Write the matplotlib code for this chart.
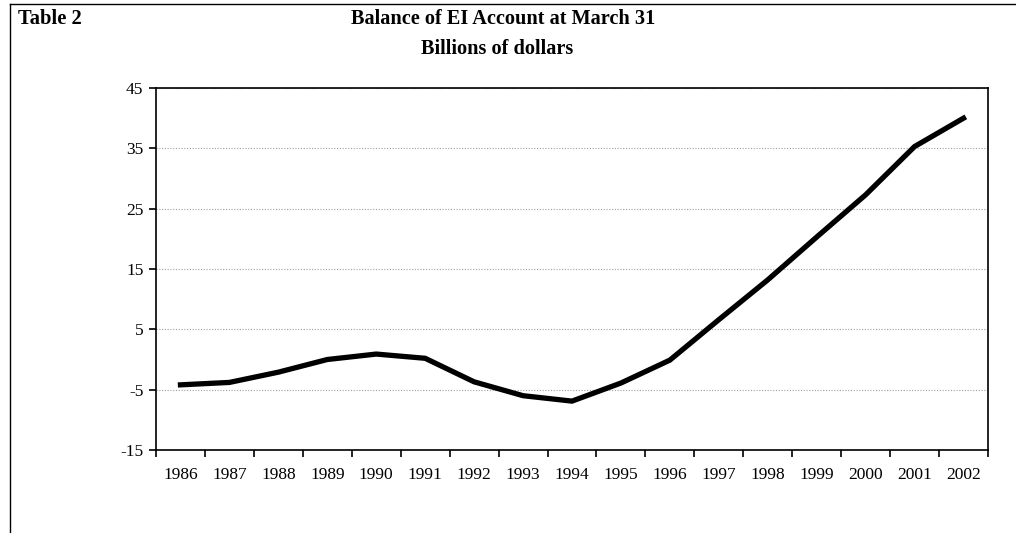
import numpy as np
import matplotlib.pyplot as plt
from matplotlib.lines import Line2D

# data
years = [str(y) for y in range(1986, 2003)]
balance = [-4.2, -3.8, -2.1, 0.0, 0.9, 0.2, -3.7, -6.0, -6.9,
           -3.9, -0.1, 6.6, 13.2, 20.3, 27.3, 35.3, 40.0]
yticks = [-15, -5, 5, 15, 25, 35, 45]

plt.rcParams['font.family'] = ['Liberation Serif', 'DejaVu Serif']

fig = plt.figure(figsize=(10.16, 5.33), dpi=100)
ax = fig.add_axes([156 / 1016, 83 / 533, 832 / 1016, 362 / 533])

x = np.arange(len(years))
ax.plot(x, balance, color='black', lw=3.8, solid_joinstyle='miter', zorder=3)

ax.set_xlim(-0.5, len(years) - 0.5)
ax.set_ylim(-15, 45)
ax.set_yticks(yticks)
ax.set_yticklabels([str(v) for v in yticks])
ax.set_xticks(x)
ax.set_xticklabels(years)
ax.set_xticks(np.arange(-0.5, len(years), 1), minor=True)
ax.tick_params(axis='x', which='major', length=0, pad=12, labelsize=12.5)
ax.tick_params(axis='x', which='minor', length=5, width=1.2, direction='out')
ax.tick_params(axis='y', length=5, width=1.2, direction='out', pad=4, labelsize=12.5)

ax.grid(axis='y', which='major', color='#a0a0a0', linestyle=(0, (1, 1.5)), lw=0.8)
for s in ax.spines.values():
    s.set_color('black')
    s.set_linewidth(1.2)

fig.text(18 / 1016, 1 - 19 / 533, 'Table 2', fontsize=14.8, fontweight='bold',
         ha='left', va='center')
fig.text(503 / 1016, 1 - 19 / 533, 'Balance of EI Account at March 31',
         fontsize=14.6, fontweight='bold', ha='center', va='center')
fig.text(497 / 1016, 1 - 49 / 533, 'Billions of dollars',
         fontsize=14.6, fontweight='bold', ha='center', va='center')

# frame round the chart (left and top edges)
fig.add_artist(Line2D([10 / 1016, 10 / 1016], [0, 1 - 4 / 533],
                      transform=fig.transFigure, color='black', lw=1))
fig.add_artist(Line2D([10 / 1016, 1], [1 - 4 / 533, 1 - 4 / 533],
                      transform=fig.transFigure, color='black', lw=1))

fig.savefig('out.png', dpi=100)
